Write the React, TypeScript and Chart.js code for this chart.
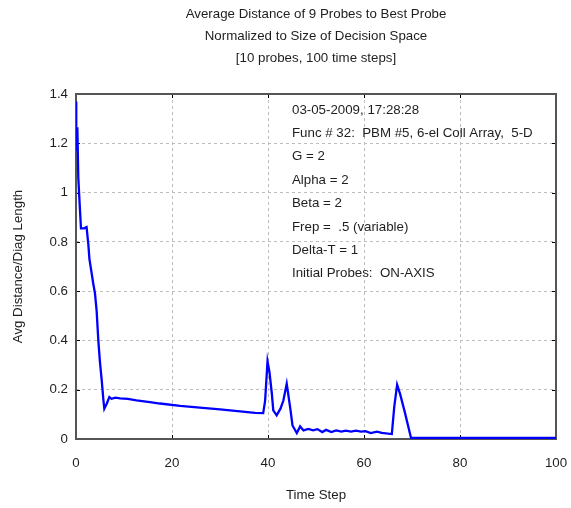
import React, { useEffect, useRef } from "react";
import { Chart, registerables } from "chart.js";

Chart.register(...registerables);

const titleLines = [
  "Average Distance of 9 Probes to Best Probe",
  "Normalized to Size of Decision Space",
  "[10 probes, 100 time steps]",
];

const infoLines = [
  "03-05-2009, 17:28:28",
  "Func # 32:  PBM #5, 6-el Coll Array,  5-D",
  "G = 2",
  "Alpha = 2",
  "Beta = 2",
  "Frep =  .5 (variable)",
  "Delta-T = 1",
  "Initial Probes:  ON-AXIS",
];

const xTitle = "Time Step";
const yTitle = "Avg Distance/Diag Length";

const timeSteps = [
  0, 0.05, 0.28, 0.48, 0.77, 1.04, 1.7, 2.2, 2.57, 2.8, 3.2, 3.6, 3.96, 4.3, 4.65,
  5.0, 5.35, 5.7, 5.9, 6.4, 6.95, 7.4, 8.2, 9.2, 10.8, 12.6, 15.4, 17.5, 21.7,
  25.8, 30, 34.2, 37.3, 39.0, 39.4, 39.9, 40.3, 40.8, 41.1, 41.8, 42.6, 43.2,
  43.9, 44.2, 44.7, 45.1, 46.0, 46.7, 47.4, 48.4, 49.4, 50.3, 51.3, 52.1, 53.2,
  54.2, 55.3, 56.2, 57.3, 58.3, 59.4, 60.3, 61.4, 62.7, 63.7, 65.8, 66.3, 66.9,
  67.5, 68.5, 69.8, 100,
];

const avgDistance = [
  1.37, 1.17, 1.265, 1.06, 0.95, 0.855, 0.855, 0.86, 0.79, 0.73, 0.68, 0.63, 0.59,
  0.52, 0.4, 0.31, 0.24, 0.16, 0.123, 0.143, 0.17, 0.163, 0.168, 0.165, 0.163,
  0.157, 0.15, 0.144, 0.134, 0.127, 0.12, 0.112, 0.106, 0.105, 0.156, 0.315,
  0.272, 0.184, 0.116, 0.096, 0.123, 0.156, 0.224, 0.184, 0.116, 0.055, 0.024,
  0.051, 0.035, 0.041, 0.035, 0.04, 0.028, 0.037, 0.028, 0.035, 0.03, 0.034,
  0.03, 0.034, 0.03, 0.032, 0.024, 0.03, 0.025, 0.02, 0.13, 0.22, 0.184, 0.109,
  0.004, 0.004,
];

const FONT = "'Liberation Sans', Arial, sans-serif";
const FS = 13.3;
const TEXT = "#1e1e1e";

const decorPlugin = {
  id: "decor",
  beforeDatasetsDraw(chart: any) {
    const { ctx, chartArea } = chart;
    const { left, right, top, bottom } = chartArea;
    const xs = chart.scales.x;
    const ys = chart.scales.y;
    ctx.save();
    ctx.strokeStyle = "#000";
    ctx.lineWidth = 1;
    const tl = 4;
    ctx.beginPath();
    xs.ticks.forEach((t: any) => {
      const px = Math.round(xs.getPixelForValue(t.value)) + 0.5;
      ctx.moveTo(px, top);
      ctx.lineTo(px, top + tl);
      ctx.moveTo(px, bottom);
      ctx.lineTo(px, bottom - tl);
    });
    ys.ticks.forEach((t: any) => {
      const py = Math.round(ys.getPixelForValue(t.value)) + 0.5;
      ctx.moveTo(left, py);
      ctx.lineTo(left + tl, py);
      ctx.moveTo(right, py);
      ctx.lineTo(right - tl, py);
    });
    ctx.stroke();
    ctx.strokeStyle = "#555";
    ctx.lineWidth = 2;
    ctx.strokeRect(left, top, right - left, bottom - top);
    ctx.restore();
  },
  afterDraw(chart: any) {
    const { ctx, chartArea } = chart;
    const cx = (chartArea.left + chartArea.right) / 2;
    ctx.save();
    ctx.fillStyle = TEXT;
    ctx.font = `${FS}px ${FONT}`;
    ctx.textAlign = "center";
    ctx.textBaseline = "middle";
    const ty = [14, 36, 58];
    titleLines.forEach((s, i) => ctx.fillText(s, cx, ty[i]));
    ctx.textAlign = "left";
    infoLines.forEach((s, i) => ctx.fillText(s, 292, 110 + i * 23.4));
    ctx.restore();
  },
};

export default function App() {
  const ref = useRef<HTMLCanvasElement | null>(null);
  useEffect(() => {
    document.body.style.margin = "0";
    const canvas = ref.current!;
    const chart = new Chart(canvas, {
      type: "line",
      data: {
        datasets: [
          {
            data: timeSteps.map((t, i) => ({ x: t, y: avgDistance[i] })),
            borderColor: "#0000ff",
            borderWidth: 2.3,
            pointRadius: 0,
            tension: 0,
            fill: false,
          },
        ],
      },
      options: {
        responsive: false,
        animation: false,
        layout: { padding: { top: 94, right: 15, left: 0, bottom: 0 } },
        plugins: { legend: { display: false }, tooltip: { enabled: false } },
        scales: {
          x: {
            type: "linear",
            min: 0,
            max: 100,
            ticks: {
              stepSize: 20,
              color: TEXT,
              font: { family: FONT, size: FS },
              padding: 16,
              maxRotation: 0,
            },
            grid: {
              color: "#bdbdbd",
              lineWidth: 1,
              drawTicks: false,
            },
            border: { display: false, dash: [3, 3] },
            title: {
              display: true,
              text: xTitle,
              color: TEXT,
              font: { family: FONT, size: FS },
              padding: { top: 0, bottom: 5 },
            },
            afterFit(scale: any) {
              scale.height = 69;
              scale.paddingLeft = 0;
              scale.paddingRight = 0;
            },
          } as any,
          y: {
            min: 0,
            max: 1.4,
            ticks: {
              stepSize: 0.2,
              color: TEXT,
              font: { family: FONT, size: FS },
              padding: 8,
              callback: (v: any) => String(Math.round(Number(v) * 10) / 10),
            },
            grid: {
              color: "#bdbdbd",
              lineWidth: 1,
              drawTicks: false,
            },
            border: { display: false, dash: [3, 3] },
            title: {
              display: true,
              text: yTitle,
              color: TEXT,
              font: { family: FONT, size: FS },
              padding: { top: 10, bottom: 0 },
            },
            afterFit(scale: any) {
              scale.width = 76;
              scale.paddingTop = 0;
              scale.paddingBottom = 0;
            },
          } as any,
        },
      },
      plugins: [decorPlugin],
    });
    return () => chart.destroy();
  }, []);
  return (
    <div style={{ width: 571, height: 508 }}>
      <canvas ref={ref} width={571} height={508} />
    </div>
  );
}
